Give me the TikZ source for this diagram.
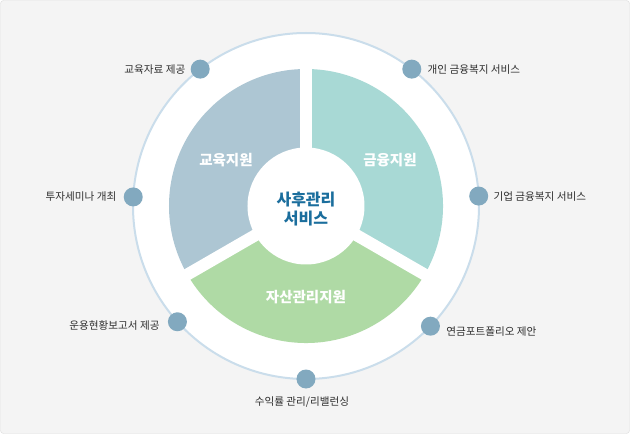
\documentclass[tikz,border=0pt]{standalone}
\usepackage{fontspec}
\setmainfont{Noto Sans CJK KR}
\usetikzlibrary{positioning}

\definecolor{bggray}{HTML}{F4F4F4}
\definecolor{bgline}{HTML}{DCDCDC}
\definecolor{ringblue}{HTML}{CADDEB}
\definecolor{dotblue}{HTML}{82A9BF}
\definecolor{edublue}{HTML}{ADC6D3}
\definecolor{fingreen}{HTML}{A8D9D5}
\definecolor{assetgreen}{HTML}{AFDAA5}
\definecolor{itemgray}{HTML}{2E2E2E}
\definecolor{hubblue}{HTML}{1B6E9D}

\begin{document}
\begin{tikzpicture}[x = 1pt, y = 1pt, font = \fontsize{10.6}{12}\selectfont]
	\tikzstyle{dotStyle} = [shape = circle, minimum size = 19pt, inner sep = 0pt, fill = dotblue]
	\tikzstyle{itemStyle} = [inner sep = 0pt, text = itemgray]
	\tikzstyle{areaStyle} = [inner sep = 0pt, text = white, font = \fontsize{14.5}{16}\selectfont\bfseries]
	\tikzstyle{gapStyle} = [draw = white, line width = 12pt]
	\useasboundingbox (-306,-228) rectangle (324,206);
	\draw[fill = bggray, draw = bgline, rounded corners = 3pt] (-305.5,-227.5) rectangle (323.5,205.5);
	\draw[fill = white, draw = ringblue, line width = 2pt] (0,0) circle (173pt);
	% sectors
	\fill[edublue] (0,0) -- (90:137pt) arc (90:210:137pt) -- cycle;
	\fill[fingreen] (0,0) -- (-30:137pt) arc (-30:90:137pt) -- cycle;
	\fill[assetgreen] (0,0) -- (210:137pt) arc (210:330:137pt) -- cycle;
	\foreach \a in {90, 210, 330}
		\draw[gapStyle] (0,0) -- (\a:141pt);
	\node[shape = circle, fill = white, minimum size = 117pt, inner sep = 0pt] (hub) at (0,0) {};
	\node[align = center, text = hubblue, font = \fontsize{16}{19}\selectfont\bfseries] (hubtext) at (0,-3) {사후관리\\서비스};
	\node[areaStyle] (edu) at (-80,46) {교육지원};
	\node[areaStyle] (fin) at (84,46) {금융지원};
	\node[areaStyle] (asset) at (0,-91) {자산관리지원};
	% dots on the ring
	\node[dotStyle] (d0) at (127.7:173pt) {};
	\node[dotStyle] (d1) at (52.3:173pt) {};
	\node[dotStyle] (d2) at (177:173pt) {};
	\node[dotStyle] (d3) at (3.3:173pt) {};
	\node[dotStyle] (d4) at (222:173pt) {};
	\node[dotStyle] (d5) at (316:173pt) {};
	\node[dotStyle] (d6) at (270:173pt) {};
	\node[itemStyle, left = 5pt of d0] (t0) {교육자료 제공};
	\node[itemStyle, right = 6pt of d1] (t1) {개인 금융복지 서비스};
	\node[itemStyle, left = 7pt of d2] (t2) {투자세미나 개최};
	\node[itemStyle, right = 5pt of d3] (t3) {기업 금융복지 서비스};
	\node[itemStyle, left = 8pt of d4, yshift = -4pt] (t4) {운용현황보고서 제공};
	\node[itemStyle, right = 6pt of d5, yshift = -5pt] (t5) {연금포트폴리오 제안};
	\node[itemStyle, below = 8pt of d6, xshift = -4pt] (t6) {수익률 관리/리밸런싱};
\end{tikzpicture}
\end{document}
